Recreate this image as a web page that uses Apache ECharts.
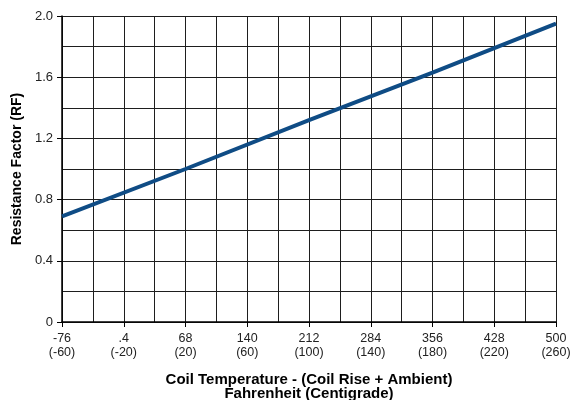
<!DOCTYPE html>
<html><head><meta charset="utf-8">
<script src="https://cdn.jsdelivr.net/npm/echarts@6/dist/echarts.min.js"></script>
<style>html,body{margin:0;padding:0;background:#fff}#c{width:574px;height:400px}</style>
</head><body><div id="c"></div>
<script>
// Data
const tempC = [-60, 20, 100, 180, 260];
const resistanceFactor = [0.69, 1.0, 1.32, 1.63, 1.95];
const fahrenheitLabels = ['-76', '.4', '68', '140', '212', '284', '356', '428', '500'];
const celsiusLabels = ['(-60)', '(-20)', '(20)', '(60)', '(100)', '(140)', '(180)', '(220)', '(260)'];

const cats = [];
for (let i = 0; i < fahrenheitLabels.length; i++) {
  cats.push(fahrenheitLabels[i] + '\n' + celsiusLabels[i]);
  if (i < fahrenheitLabels.length - 1) cats.push('');
}
const gridColor = '#1e1e1e';
const font = '"Liberation Sans", Arial, Helvetica, sans-serif';

const chart = echarts.init(document.getElementById('c'), null, {renderer: 'canvas'});
chart.setOption({
  animation: false,
  textStyle: {fontFamily: font},
  grid: {left: 62, right: 18, top: 16, bottom: 78, outerBoundsMode: 'none', containLabel: false},
  xAxis: [{
    type: 'value', min: -60, max: 260, interval: 20,
    axisLine: {show: false, onZero: false}, axisTick: {show: false}, axisLabel: {show: false},
    splitLine: {show: true, lineStyle: {color: gridColor, width: 1}}
  }, {
    type: 'category', position: 'bottom', boundaryGap: false, data: cats,
    axisLine: {show: true, onZero: false, lineStyle: {color: '#000', width: 1.5}},
    axisTick: {show: true, length: 5, interval: function (i) { return i % 2 === 0; }, lineStyle: {color: '#000', width: 1}},
    axisLabel: {interval: 0, color: '#222', fontSize: 12.5, lineHeight: 14, margin: 10, fontFamily: font},
    splitLine: {show: false},
    name: 'Coil Temperature - (Coil Rise + Ambient)\nFahrenheit (Centigrade)',
    nameLocation: 'middle', nameGap: 51,
    nameTextStyle: {fontSize: 15, fontWeight: 'bold', color: '#000', lineHeight: 14, fontFamily: font}
  }],
  yAxis: {
    type: 'value', min: 0, max: 2, interval: 0.4,
    axisLine: {show: true, onZero: false, lineStyle: {color: '#000', width: 1.5}},
    axisTick: {show: true, length: 5, lineStyle: {color: '#000'}},
    axisLabel: {color: '#222', fontSize: 13, margin: 9, fontFamily: font,
      formatter: function (v) { return v === 0 ? '0' : v.toFixed(1); }},
    splitLine: {show: true, lineStyle: {color: gridColor, width: 1}},
    minorTick: {show: false, splitNumber: 2},
    minorSplitLine: {show: true, lineStyle: {color: gridColor, width: 1}},
    name: 'Resistance Factor (RF)', nameLocation: 'middle', nameGap: 38,
    nameTextStyle: {fontSize: 14, fontWeight: 'bold', color: '#000', fontFamily: font}
  },
  series: [{
    type: 'line', xAxisIndex: 0,
    data: tempC.map((t, i) => [t, resistanceFactor[i]]),
    showSymbol: false, lineStyle: {color: '#0f4c85', width: 4}
  }]
});
</script></body></html>
